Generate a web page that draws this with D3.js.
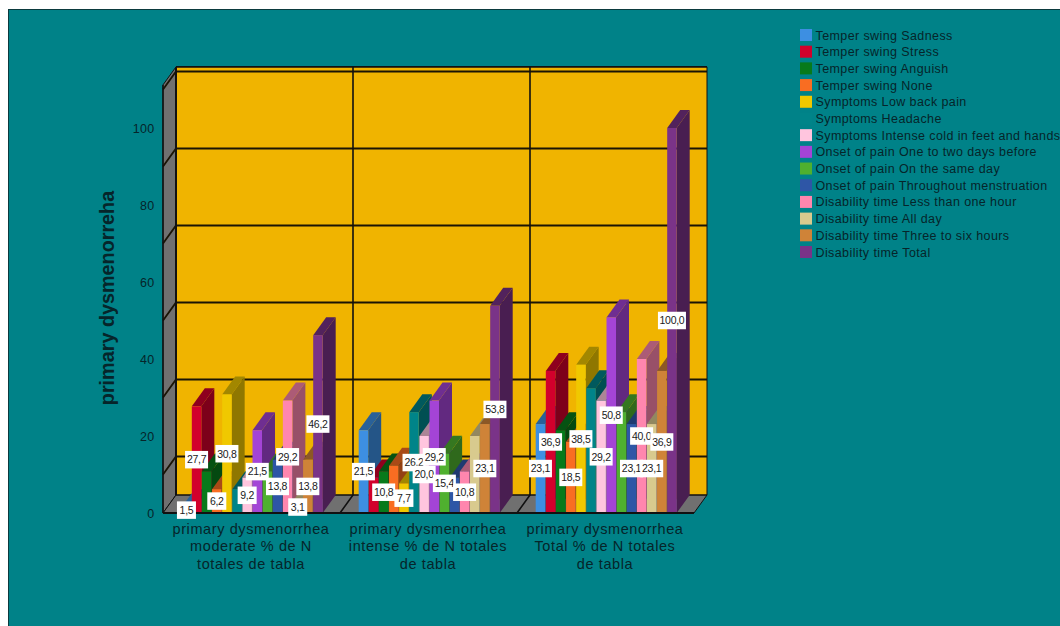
<!DOCTYPE html>
<html>
<head>
<meta charset="utf-8">
<script src="https://cdn.jsdelivr.net/npm/d3@7"></script>
<style>
  html, body { margin: 0; padding: 0; background: #fff; overflow: hidden; }
  svg { display: block; font-family: "Liberation Sans", Arial, sans-serif; }
</style>
</head>
<body>
<svg id="chart" width="1060" height="626"></svg>
<script>
// Chart content
const categories = [
  ["primary dysmenorrhea", "moderate % de N", "totales de tabla"],
  ["primary dysmenorrhea", "intense % de N totales", "de tabla"],
  ["primary dysmenorrhea", "Total % de N totales", "de tabla"]
];
const seriesNames = [
  "Temper swing Sadness", "Temper swing Stress", "Temper swing Anguish", "Temper swing None",
  "Symptoms Low back pain", "Symptoms Headache", "Symptoms Intense cold in feet and hands",
  "Onset of pain One to two days before", "Onset of pain On the same day",
  "Onset of pain Throughout menstruation", "Disability time Less than one hour",
  "Disability time All day", "Disability time Three to six hours", "Disability time Total"
];
const seriesColors = [
  "#3d8fe2", "#d2002c", "#077a1b", "#f96d22", "#f0c800", "#008489", "#ffc5de",
  "#a444d6", "#4fb02f", "#2e56a6", "#ff86ae", "#d8ca8e", "#cf8338", "#7a3388"
];
const moderateValues = [1.5, 27.7, 10.8, 6.2, 30.8, 6.2, 9.2, 21.5, 10.8, 13.8, 29.2, 3.1, 13.8, 46.2];
const intenseValues  = [21.5, 9.2, 10.8, 12.3, 7.7, 26.2, 20.0, 29.2, 15.4, 9.2, 10.8, 20.0, 23.1, 53.8];
const totalValues    = [23.1, 36.9, 21.5, 18.5, 38.5, 32.4, 29.2, 50.8, 26.2, 23.1, 40.0, 23.1, 36.9, 100.0];
const valuesByGroup = [moderateValues, intenseValues, totalValues];
// Bars whose value tag is not printed, per group, by series position
const unlabelled = [[2, 5, 8], [1, 3, 9, 11], [2, 5, 8]];
const yTicks = [0, 20, 40, 60, 80, 100];
const wallLines = [10, 30, 50, 70, 90, 110];
const yTitle = "primary dysmenorreha";
const fmt = v => v.toFixed(1).replace(".", ",");

// Layout of the oblique box
const W = 1060, H = 626;
const left = 163, right = 694, baseY = 513, pxPerUnit = 3.85;
const depthX = 13, depthY = 18;
const wallTop = 111.2;

const svg = d3.select("#chart");
const y = d3.scaleLinear().domain([0, 100]).range([baseY, baseY - 100 * pxPerUnit]);
const x0 = d3.scaleBand().domain(d3.range(categories.length)).range([left, right]);
const x1 = d3.scaleBand().domain(d3.range(seriesNames.length)).range([18.7, 159.7]).paddingInner(0.06).paddingOuter(0);

const poly = pts => pts.map(p => p.join(",")).join(" ");

// Page and frame
svg.append("rect").attr("width", W).attr("height", H).attr("fill", "#fff");
svg.append("rect").attr("x", 8.5).attr("y", 9.5).attr("width", W).attr("height", H)
  .attr("fill", "#008288").attr("stroke", "#0b3a3e").attr("stroke-width", 1);

// Walls and floor
const g = svg.append("g");
g.append("polygon").attr("fill", "#f0b400")
  .attr("points", poly([[left + depthX, y(wallTop) - depthY], [right + depthX, y(wallTop) - depthY], [right + depthX, y(0) - depthY], [left + depthX, y(0) - depthY]]));
g.append("polygon").attr("fill", "#707070").attr("stroke", "#111").attr("stroke-width", 1)
  .attr("points", poly([[left, y(wallTop)], [left + depthX, y(wallTop) - depthY], [left + depthX, y(0) - depthY], [left, y(0)]]));
g.append("polygon").attr("fill", "#707070").attr("stroke", "#111").attr("stroke-width", 1)
  .attr("points", poly([[left, y(0)], [left + depthX, y(0) - depthY], [right + depthX, y(0) - depthY], [right, y(0)]]));

// Horizontal wall lines, carried round the side wall
wallLines.forEach(v => {
  g.append("polyline").attr("fill", "none").attr("stroke", "#1a1405").attr("stroke-width", 1.8)
    .attr("points", poly([[left, y(v)], [left + depthX, y(v) - depthY], [right + depthX, y(v) - depthY]]));
});
g.append("line").attr("x1", left + depthX).attr("x2", right + depthX)
  .attr("y1", y(wallTop) - depthY).attr("y2", y(wallTop) - depthY).attr("stroke", "#111").attr("stroke-width", 1.8);

// Group dividers on the back wall and floor
[1, 2].forEach(i => {
  const xb = x0(i);
  g.append("polyline").attr("fill", "none").attr("stroke", "#111").attr("stroke-width", 1.6)
    .attr("points", poly([[xb, y(0)], [xb + depthX, y(0) - depthY], [xb + depthX, y(wallTop) - depthY]]));
});
g.append("line").attr("x1", left + depthX).attr("x2", left + depthX)
  .attr("y1", y(wallTop) - depthY).attr("y2", y(0) - depthY).attr("stroke", "#111").attr("stroke-width", 2);
g.append("line").attr("x1", right + depthX).attr("x2", right + depthX)
  .attr("y1", y(wallTop) - depthY).attr("y2", y(0) - depthY).attr("stroke", "#111").attr("stroke-width", 1);
g.append("line").attr("x1", left + depthX).attr("x2", right + depthX)
  .attr("y1", y(0) - depthY).attr("y2", y(0) - depthY).attr("stroke", "#111").attr("stroke-width", 1.2);

// Bars: later bars sit over the side faces of earlier ones
const bars = svg.append("g");
const bw = x1.bandwidth();
valuesByGroup.forEach((values, gi) => {
  const ox = x0(gi);
  values.forEach((v, si) => {
    const c = d3.color(seriesColors[si]);
    const xl = ox + x1(si), xr = xl + bw, yt = y(v);
    const bar = bars.append("g");
    bar.append("polygon").attr("fill", c.darker(1.45).formatHex())
      .attr("points", poly([[xr, yt], [xr + depthX, yt - depthY], [xr + depthX, baseY - depthY], [xr, baseY]]));
    bar.append("polygon").attr("fill", c.darker(1.1).formatHex())
      .attr("points", poly([[xl, yt], [xl + depthX, yt - depthY], [xr + depthX, yt - depthY], [xr, yt]]));
    bar.append("rect").attr("x", xl).attr("y", yt).attr("width", bw).attr("height", baseY - yt).attr("fill", c.formatHex());
  });
});

// Front edge of the floor and the vertical axis
svg.append("line").attr("x1", left).attr("x2", right).attr("y1", baseY).attr("y2", baseY).attr("stroke", "#111").attr("stroke-width", 2);
svg.append("line").attr("x1", left).attr("x2", left).attr("y1", y(wallTop)).attr("y2", baseY).attr("stroke", "#111").attr("stroke-width", 1.4);

// Value tags
const tags = svg.append("g");
valuesByGroup.forEach((values, gi) => {
  const ox = x0(gi);
  values.forEach((v, si) => {
    if (unlabelled[gi].includes(si)) return;
    const cx = ox + x1(si) + bw / 2, cy = (y(v) + baseY) / 2;
    const tw = v >= 100 ? 28 : (v < 10 ? 19 : 23);
    tags.append("rect").attr("x", cx - tw / 2).attr("y", cy - 8.75).attr("width", tw).attr("height", 17.5).attr("fill", "#fff");
    tags.append("text").attr("x", cx).attr("y", cy + 3.8).attr("text-anchor", "middle")
      .attr("font-size", 10.5).attr("letter-spacing", -0.3).attr("fill", "#1a1a1a").text(fmt(v));
  });
});

// Value axis labels
const yAxis = d3.axisLeft(y).tickValues(yTicks).tickSize(0).tickPadding(8.5).tickFormat(d3.format("d"));
const axisG = svg.append("g").attr("transform", `translate(${left},0)`).call(yAxis);
axisG.select(".domain").remove();
axisG.selectAll("text").attr("font-size", 12.5).attr("font-family", "inherit").attr("fill", "#06252a").attr("letter-spacing", 0.3);

// Category labels
categories.forEach((lines, i) => {
  const t = svg.append("text").attr("text-anchor", "middle").attr("font-size", 14.5).attr("letter-spacing", 0.6).attr("fill", "#06252a");
  lines.forEach((ln, k) => {
    t.append("tspan").attr("x", x0(i) + x0.bandwidth() / 2 - 0.5).attr("y", 533.5 + k * 17.5).text(ln);
  });
});

// Value axis title
svg.append("text").attr("transform", "translate(113.5,298) rotate(-90)").attr("text-anchor", "middle")
  .attr("font-size", 19.8).attr("font-weight", "bold").attr("fill", "#06252a").text(yTitle);

// Legend
const legend = svg.append("g");
const rowY = d3.scaleLinear().domain([0, 13]).range([35, 252]);
seriesNames.forEach((name, i) => {
  legend.append("rect").attr("x", 800).attr("y", rowY(i) - 6).attr("width", 12).attr("height", 12).attr("fill", seriesColors[i]);
  legend.append("text").attr("x", 815.5).attr("y", rowY(i) + 4.5).attr("font-size", 12.5).attr("letter-spacing", 0.4)
    .attr("fill", "#06252a").text(name);
});
</script>
</body>
</html>
